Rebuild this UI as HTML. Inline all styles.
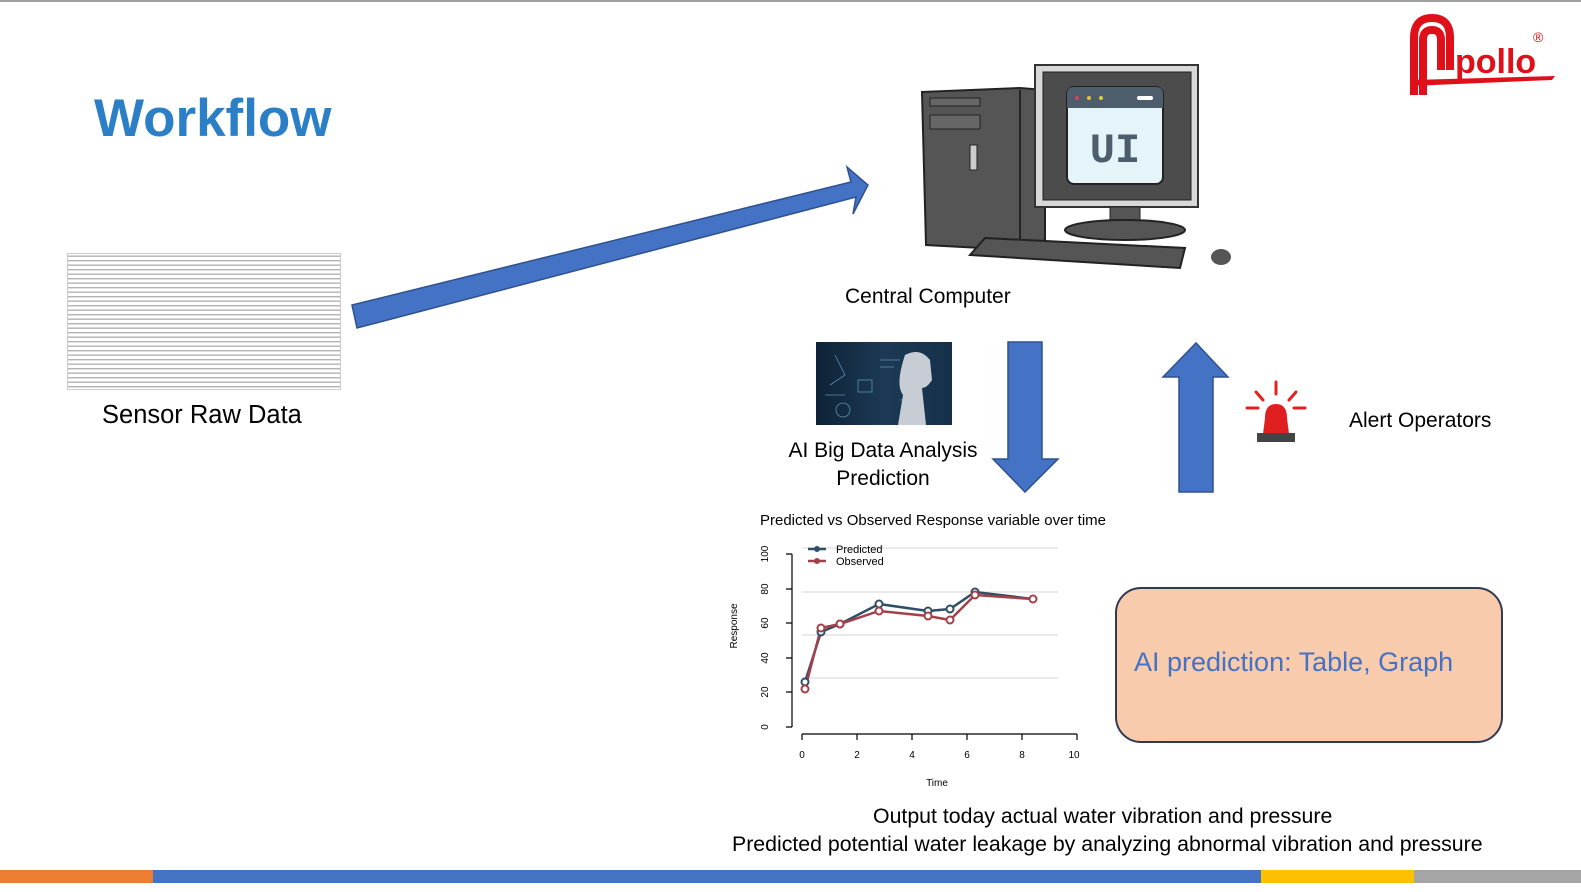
<!DOCTYPE html>
<html><head><meta charset="utf-8"><style>
html,body{margin:0;padding:0;background:#fff;}
body{width:1581px;height:892px;position:relative;overflow:hidden;font-family:"Liberation Sans","DejaVu Sans",sans-serif;}
.t{position:absolute;white-space:nowrap;color:#000;}
</style></head><body>
<div style="position:absolute;left:0;top:0;width:1581px;height:2px;background:#a0a0a0"></div>
<div class="t" style="left:94px;top:88px;font-size:53px;font-weight:bold;color:#2a7fc7;">Workflow</div>
<!-- sensor raw data -->
<div style="position:absolute;left:67px;top:253px;width:272px;height:135px;background:#f2f2f2;border:1px solid #ccc;background-image:repeating-linear-gradient(to bottom,#fff 0,#fff 1.5px,#aaa 1.5px,#c4c4c4 3px,#fff 3px,#fff 4.5px);"></div>
<div class="t" style="left:102px;top:401px;font-size:25.5px;">Sensor Raw Data</div>
<div class="t" style="left:845px;top:285px;font-size:21px;">Central Computer</div>
<div class="t" style="left:770px;top:437px;width:226px;text-align:center;font-size:21px;line-height:28px;">AI Big Data Analysis<br>Prediction</div>
<div class="t" style="left:1349px;top:409px;font-size:21px;">Alert Operators</div>
<div class="t" style="left:760px;top:512px;font-size:15px;">Predicted vs Observed Response variable over time</div>
<div style="position:absolute;left:1115px;top:587px;width:384px;height:152px;background:#f8cbad;border:2px solid #2f3a55;border-radius:26px;"></div>
<div class="t" style="left:1134px;top:647px;font-size:27px;color:#4472c4;">AI prediction: Table, Graph</div>
<div class="t" style="left:873px;top:804px;font-size:21.3px;">Output today actual water vibration and pressure</div>
<div class="t" style="left:732px;top:832px;font-size:21.3px;">Predicted potential water leakage by analyzing abnormal vibration and pressure</div>
<!-- AI image -->
<div style="position:absolute;left:816px;top:342px;width:136px;height:83px;background:linear-gradient(90deg,#0e2236,#1c3a55 50%,#16304a);"></div>
<svg style="position:absolute;left:0;top:0" width="1581" height="892">
<g stroke="#6fa8c8" stroke-width="0.8" fill="none" opacity="0.8">
<rect x="858" y="380" width="14" height="12"/><path d="M835 355 L845 375 L830 385"/><circle cx="843" cy="410" r="7"/><path d="M880 360 h20 M880 367 h14 M825 395 h20 M900 400 h12"/>
</g>
<path d="M905 355 q15 -8 25 5 l2 20 q-5 8 -10 8 l4 37 h-28 l5 -30 q-8 -10 2 -40z" fill="#c8ccd4"/>
<polygon points="352,305 851,182 847,167 868,185 853,214 856,197 357,328" fill="#4472c4" stroke="#2f528f" stroke-width="1.5"/>
<polygon points="1008,342 1042,342 1042,459 1058,459 1025,492 993,459 1008,459" fill="#4472c4" stroke="#2f528f" stroke-width="1.5"/>
<polygon points="1179,492 1213,492 1213,377 1228,377 1196,343 1163,377 1179,377" fill="#4472c4" stroke="#2f528f" stroke-width="1.5"/>
<g stroke="#e52020" stroke-width="3" stroke-linecap="round">
<line x1="1276" y1="382" x2="1276" y2="394"/><line x1="1256" y1="392" x2="1263" y2="400"/><line x1="1296" y1="392" x2="1289" y2="400"/><line x1="1247" y1="408" x2="1258" y2="408"/><line x1="1305" y1="408" x2="1294" y2="408"/>
</g>
<path d="M1265 418 q0 -14 11 -14 q11 0 11 14 l2 16 h-26z" fill="#e02020"/>
<rect x="1257" y="433" width="38" height="9" fill="#444"/>
<polygon points="922,92 1020,88 1045,90 1045,240 1020,250 926,245" fill="#555" stroke="#222" stroke-width="2"/>
<line x1="1020" y1="90" x2="1020" y2="248" stroke="#222" stroke-width="2"/>
<rect x="930" y="98" width="50" height="8" fill="#666" stroke="#222"/>
<rect x="930" y="115" width="50" height="14" fill="#666" stroke="#222"/>
<rect x="970" y="145" width="7" height="25" fill="#ccc" stroke="#222"/>
<rect x="1035" y="65" width="163" height="142" fill="#d8d8d8" stroke="#333" stroke-width="2"/>
<rect x="1043" y="72" width="148" height="128" fill="#4c4c4c" stroke="#222"/>
<rect x="1067" y="87" width="96" height="97" rx="7" fill="#e4f4f8" stroke="#222" stroke-width="2"/>
<path d="M1067 94 q0 -7 7 -7 h82 q7 0 7 7 v14 h-96z" fill="#4e5d6b"/>
<circle cx="1077" cy="98" r="2" fill="#e04060"/><circle cx="1089" cy="98" r="2" fill="#e8c030"/><circle cx="1101" cy="98" r="2" fill="#d8d040"/>
<rect x="1137" y="96" width="16" height="4" rx="2" fill="#fff"/>
<text x="1115" y="162" text-anchor="middle" font-family="Liberation Mono,monospace" font-weight="bold" font-size="42" fill="#4e5d6b">UI</text>
<rect x="1110" y="207" width="30" height="15" fill="#555" stroke="#222"/>
<ellipse cx="1125" cy="230" rx="60" ry="10" fill="#555" stroke="#222" stroke-width="2"/>
<polygon points="985,238 1185,248 1180,268 970,255" fill="#555" stroke="#222" stroke-width="2"/>
<ellipse cx="1221" cy="257" rx="10" ry="8" fill="#555"/>
<g stroke="#ddd" stroke-width="1.2"><line x1="802" y1="548" x2="1058" y2="548"/><line x1="802" y1="592" x2="1058" y2="592"/><line x1="802" y1="635" x2="1058" y2="635"/><line x1="802" y1="678" x2="1058" y2="678"/></g>
<g stroke="#000" stroke-width="1.2" fill="none">
<path d="M792 554 V727 M786 554 h6 M786 589 h6 M786 623 h6 M786 658 h6 M786 692 h6 M786 727 h6"/>
<path d="M802 734 H1077 M802 734 v6 M857 734 v6 M912 734 v6 M967 734 v6 M1022 734 v6 M1077 734 v6"/>
</g>
<g font-size="10" font-family="Liberation Sans,sans-serif" text-anchor="middle">
<text x="802" y="758">0</text><text x="857" y="758">2</text><text x="912" y="758">4</text><text x="967" y="758">6</text><text x="1022" y="758">8</text><text x="1074" y="758">10</text>
<text x="937" y="786">Time</text>
<g transform="rotate(-90)"><text x="-727" y="768">0</text><text x="-692" y="768">20</text><text x="-658" y="768">40</text><text x="-623" y="768">60</text><text x="-589" y="768">80</text><text x="-554" y="768">100</text><text x="-626" y="737">Response</text></g>
</g>
<polyline points="805,682 821,632 840,624 879,604 928,611 950,609 975,592 1033,599" fill="none" stroke="#2f4f66" stroke-width="2.5"/>
<polyline points="805,689 821,628 840,624 879,611 928,616 950,620 975,595 1033,599" fill="none" stroke="#a4404a" stroke-width="2.5"/>
<g fill="#fff" stroke="#2f4f66" stroke-width="2"><circle cx="805" cy="682" r="3.5"/><circle cx="821" cy="632" r="3.5"/><circle cx="840" cy="624" r="3.5"/><circle cx="879" cy="604" r="3.5"/><circle cx="928" cy="611" r="3.5"/><circle cx="950" cy="609" r="3.5"/><circle cx="975" cy="592" r="3.5"/></g>
<g fill="#fff" stroke="#a4404a" stroke-width="2"><circle cx="805" cy="689" r="3.5"/><circle cx="821" cy="628" r="3.5"/><circle cx="840" cy="624" r="3.5"/><circle cx="879" cy="611" r="3.5"/><circle cx="928" cy="616" r="3.5"/><circle cx="950" cy="620" r="3.5"/><circle cx="975" cy="595" r="3.5"/><circle cx="1033" cy="599" r="3.5"/></g>
<line x1="808" y1="549" x2="826" y2="549" stroke="#2f4f66" stroke-width="2.5"/><circle cx="817" cy="549" r="3" fill="#2f4f66"/>
<line x1="808" y1="561" x2="826" y2="561" stroke="#a4404a" stroke-width="2.5"/><circle cx="817" cy="561" r="3" fill="#a4404a"/>
<text x="836" y="553" font-size="11" font-family="Liberation Sans,sans-serif">Predicted</text>
<text x="836" y="565" font-size="11" font-family="Liberation Sans,sans-serif">Observed</text>
<path d="M1414 95 V38 q0 -20 18 -20 q18 0 18 20 V70 M1423 95 V40 q0 -10 9 -10 q9 0 9 10 V70" fill="none" stroke="#e0101a" stroke-width="8"/>
<path d="M1412 80 L1555 76 L1552 80 L1410 86z" fill="#e0101a"/>
<text x="1455" y="73" font-size="34" font-weight="bold" font-family="Liberation Sans,sans-serif" fill="#e0101a">pollo</text>
<text x="1533" y="42" font-size="14" font-family="Liberation Sans,sans-serif" fill="#e0101a">®</text>
</svg>
<div style="position:absolute;left:0;top:870px;width:153px;height:13px;background:#ed7d31"></div>
<div style="position:absolute;left:153px;top:870px;width:1108px;height:13px;background:#4472c4"></div>
<div style="position:absolute;left:1261px;top:870px;width:153px;height:13px;background:#ffc000"></div>
<div style="position:absolute;left:1414px;top:870px;width:167px;height:13px;background:#a5a5a5"></div>
</body></html>
